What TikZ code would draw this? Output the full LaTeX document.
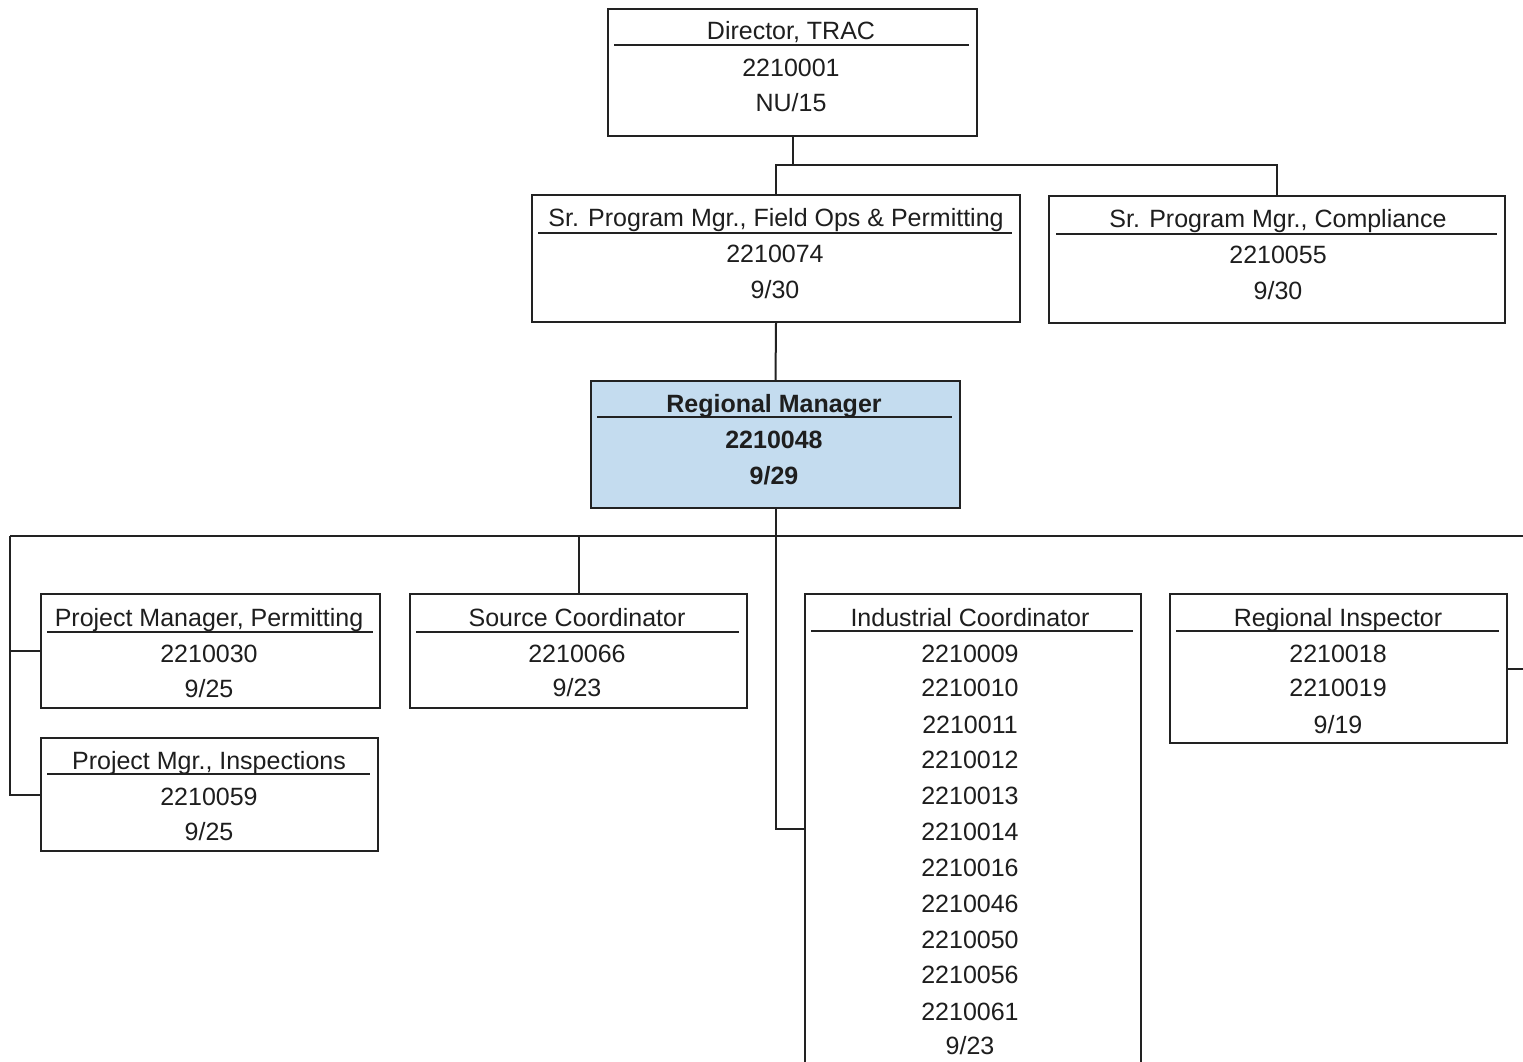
\documentclass[tikz,border=0pt]{standalone}
\usepackage{fontspec}
\setmainfont{Liberation Sans}
\definecolor{ln}{HTML}{222222}
\definecolor{tx}{HTML}{1E1E1E}
\definecolor{rmfill}{HTML}{C4DCEF}
\begin{document}
\begin{tikzpicture}[x=1pt,y=-1pt,
 box/.style={draw=ln, line width=2pt, inner sep=0pt, anchor=north west},
 lbl/.style={anchor=base, inner sep=0pt, text=tx, font=\fontsize{25}{30}\selectfont},
 blbl/.style={lbl, font=\fontsize{25}{30}\selectfont\bfseries},
 rule/.style={draw=ln, line width=2pt},
 wire/.style={draw=ln, line width=2pt}]
\useasboundingbox[fill=white] (0,0) rectangle (1523,1061);

% boxes
\node[box, minimum width=369pt, minimum height=127pt] (dir) at (607,8) {};
\node[box, minimum width=488pt, minimum height=127pt] (sr1) at (531,194) {};
\node[box, minimum width=456pt, minimum height=127pt] (sr2) at (1048,195) {};
\node[box, fill=rmfill, minimum width=369pt, minimum height=127pt] (rm) at (590,380) {};
\node[box, minimum width=339pt, minimum height=114pt] (pp) at (40,593) {};
\node[box, minimum width=337pt, minimum height=113pt] (pi) at (40,737) {};
\node[box, minimum width=337pt, minimum height=114pt] (sc) at (409,593) {};
\node[box, minimum width=336pt, minimum height=475pt] (ind) at (804,593) {};
\node[box, minimum width=337pt, minimum height=149pt] (ri) at (1169,593) {};

% title rules
\draw[rule] (614,45) -- (969,45);
\draw[rule] (538,233) -- (1012,233);
\draw[rule] (1056,234) -- (1497,234);
\draw[rule] (597,417) -- (952,417);
\draw[rule] (47,632) -- (373,632);
\draw[rule] (47,774) -- (370,774);
\draw[rule] (416,632) -- (739,632);
\draw[rule] (811,631) -- (1133,631);
\draw[rule] (1176,631) -- (1499,631);

% texts
\node[lbl] (dirA) at (791,39) {Director, TRAC};
\node[lbl] (dirB) at (791,76) {2210001};
\node[lbl] (dirC) at (791,111) {NU/15};

\node[lbl] (sr1A) at (776,226) {Sr. Program Mgr., Field Ops \& Permitting};
\node[lbl] (sr1B) at (775,262) {2210074};
\node[lbl] (sr1C) at (775,298) {9/30};

\node[lbl] (sr2A) at (1278,227) {Sr. Program Mgr., Compliance};
\node[lbl] (sr2B) at (1278,263) {2210055};
\node[lbl] (sr2C) at (1278,299) {9/30};

\node[blbl] (rmA) at (774,412) {Regional Manager};
\node[blbl] (rmB) at (774,448) {2210048};
\node[blbl] (rmC) at (774,484) {9/29};

\node[lbl] (ppA) at (209,626) {Project Manager, Permitting};
\node[lbl] (ppB) at (209,662) {2210030};
\node[lbl] (ppC) at (209,697) {9/25};

\node[lbl] (piA) at (209,769) {Project Mgr., Inspections};
\node[lbl] (piB) at (209,805) {2210059};
\node[lbl] (piC) at (209,840) {9/25};

\node[lbl] (scA) at (577,626) {Source Coordinator};
\node[lbl] (scB) at (577,662) {2210066};
\node[lbl] (scC) at (577,696) {9/23};

\node[lbl] (indA) at (970,626) {Industrial Coordinator};
\node[lbl] (ind1) at (970,662) {2210009};
\node[lbl] (ind2) at (970,696) {2210010};
\node[lbl] (ind3) at (970,733) {2210011};
\node[lbl] (ind4) at (970,768) {2210012};
\node[lbl] (ind5) at (970,804) {2210013};
\node[lbl] (ind6) at (970,840) {2210014};
\node[lbl] (ind7) at (970,876) {2210016};
\node[lbl] (ind8) at (970,912) {2210046};
\node[lbl] (ind9) at (970,948) {2210050};
\node[lbl] (ind10) at (970,983) {2210056};
\node[lbl] (ind11) at (970,1020) {2210061};
\node[lbl] (ind12) at (970,1054) {9/23};

\node[lbl] (riA) at (1338,626) {Regional Inspector};
\node[lbl] (riB) at (1338,662) {2210018};
\node[lbl] (riC) at (1338,696) {2210019};
\node[lbl] (riD) at (1338,733) {9/19};

% connectors
\coordinate (bus1) at (0,165);
\coordinate (busL) at (10,536);
\coordinate (busR) at (1523,536);
\draw[wire] (dir.south) -- (dir.south |- bus1);
\draw[wire] (sr1.north) -- (sr1.north |- bus1) -| (sr2.north);
\draw[wire] (sr1.south) -- (rm.north);
\draw[wire] (busL) -- (busR);
\draw[wire] (rm.south) |- ([yshift=-236pt]ind.north west);
\draw[wire] (busL) |- (pi.west);
\draw[wire] (busL |- pp.west) -- (pp.west);
\draw[wire] (sc.north |- busL) -- (sc.north);
\draw[wire] (ri.east) -- (ri.east -| busR);
\end{tikzpicture}
\end{document}
